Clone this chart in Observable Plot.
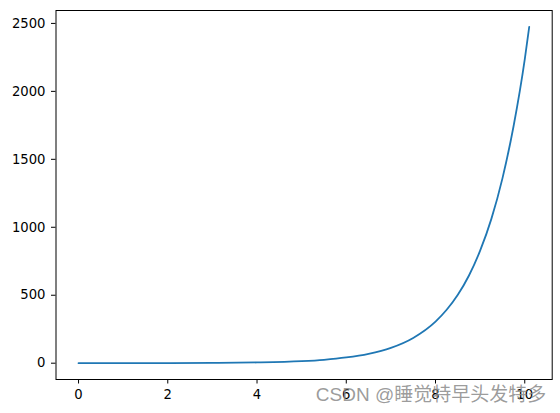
<!DOCTYPE html>
<html>
<head>
<meta charset="utf-8">
<script src="https://cdn.jsdelivr.net/npm/d3@7"></script>
<script src="https://cdn.jsdelivr.net/npm/@observablehq/plot@0.6"></script>
<style>
  html, body { margin: 0; padding: 0; background: #fff; }
  #chart svg { display: block; }
</style>
</head>
<body>
<div id="chart"></div>
<script>
const xValues = [0, 1, 2, 3, 4, 5, 5.5, 6, 6.5, 7, 7.5, 8, 8.25, 8.5, 8.75, 9, 9.25, 9.5, 9.75, 10, 10.1];
const yValues = [0.1, 0.3, 0.7, 2, 5.5, 15, 25, 42, 69, 113, 186, 306, 393, 503, 645, 828, 1060, 1360, 1745, 2235, 2475];
const xTicks = [0, 2, 4, 6, 8, 10];
const yTicks = [0, 500, 1000, 1500, 2000, 2500];
const watermark = "CSDN @睡觉特早头发特多";

const data = xValues.map((x, i) => ({x, y: yValues[i]}));

const chart = Plot.plot({
  width: 560,
  height: 413,
  marginLeft: 55.5,
  marginRight: 8.3,
  marginTop: 10,
  marginBottom: 34,
  style: {fontFamily: "DejaVu Sans", fontSize: "13.2px", color: "#000", background: "#fff"},
  x: {domain: [-0.505, 10.615], ticks: xTicks, tickFormat: d => String(d), tickSize: 4.5, tickPadding: 6, label: null},
  y: {domain: [-120, 2595], ticks: yTicks, tickFormat: d => String(d), tickSize: 4.5, tickPadding: 6, label: null},
  marks: [
    Plot.line(data, {x: "x", y: "y", stroke: "#1f77b4", strokeWidth: 1.8, curve: "monotone-x"}),
    Plot.frame({stroke: "#000", strokeWidth: 1}),
    Plot.text([watermark], {
      text: d => d, frameAnchor: "bottom-right", textAnchor: "end",
      dx: -6, dy: 21, fontSize: 19, fill: "#8a8a8a", fillOpacity: 0.85, lineAnchor: "bottom",
      fontFamily: "Liberation Sans, Noto Sans CJK SC, sans-serif"
    })
  ]
});
document.getElementById("chart").appendChild(chart);
</script>
</body>
</html>
